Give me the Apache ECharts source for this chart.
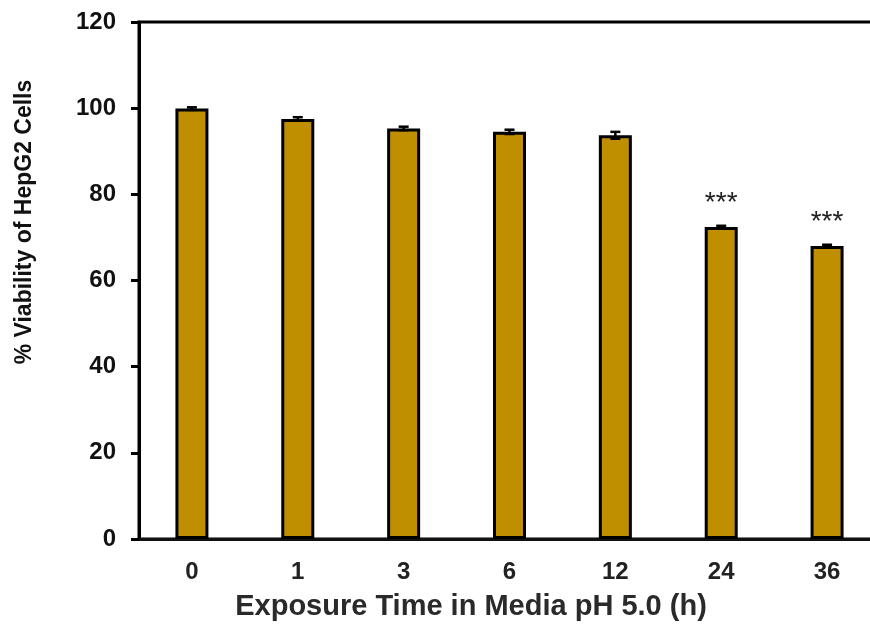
<!DOCTYPE html>
<html>
<head>
<meta charset="utf-8">
<script src="https://cdn.jsdelivr.net/npm/echarts@6/dist/echarts.min.js"></script>
<style>
html,body{margin:0;padding:0;background:#fff;overflow:hidden;}
#chart{width:890px;height:628px;}
</style>
</head>
<body>
<div id="chart"></div>
<script>
var categories = ['0', '1', '3', '6', '12', '24', '36'];
var viability = [99.9, 97.5, 95.3, 94.5, 93.7, 72.4, 68.0];
var errors = [0.3, 0.4, 0.4, 0.5, 0.8, 0.3, 0.3];
var significance = ['', '', '', '', '', '***', '***'];
var yTicks = [0, 20, 40, 60, 80, 100, 120];

var chart = echarts.init(document.getElementById('chart'));
var font = '"Liberation Sans", Arial, sans-serif';

var option = {
  animation: false,
  backgroundColor: '#fff',
  grid: {
    left: 139, right: 10, top: 22, bottom: 89,
    show: true, borderColor: '#000', borderWidth: 3, backgroundColor: 'transparent'
  },
  xAxis: {
    type: 'category',
    data: categories,
    axisLine: { lineStyle: { color: '#111', width: 3 } },
    axisTick: { alignWithLabel: true, length: 3, lineStyle: { color: '#111', width: 3 } },
    axisLabel: { color: '#222', fontFamily: font, fontWeight: 'bold', fontSize: 24, margin: 21 }
  },
  yAxis: {
    type: 'value',
    min: yTicks[0], max: yTicks[yTicks.length - 1], interval: 20,
    splitLine: { show: false },
    axisLine: { show: true, lineStyle: { color: '#000', width: 3 } },
    axisTick: { show: true, length: 8, lineStyle: { color: '#000', width: 3 } },
    axisLabel: { color: '#111', fontFamily: font, fontWeight: 'bold', fontSize: 24, margin: 23 }
  },
  graphic: [
    {
      type: 'text', x: 25, y: 222, rotation: Math.PI / 2,
      style: { text: '% Viability of HepG2 Cells', fill: '#111', font: 'bold 23px ' + font,
               align: 'center', verticalAlign: 'middle' }
    },
    {
      type: 'text', x: 471, y: 607,
      style: { text: 'Exposure Time in Media pH 5.0 (h)', fill: '#2a2a2a', font: 'bold 29px ' + font,
               align: 'center', verticalAlign: 'middle' }
    }
  ],
  series: [
    {
      type: 'bar',
      data: viability,
      barWidth: 33,
      itemStyle: { color: '#BF8F00', borderColor: '#000', borderWidth: 3 },
      label: {
        show: true, position: 'top', distance: 10,
        formatter: function (p) { return significance[p.dataIndex]; },
        color: '#222', fontFamily: font, fontSize: 28, lineHeight: 28
      }
    },
    {
      type: 'custom',
      data: viability.map(function (v, i) { return [i, v, errors[i]]; }),
      z: 5,
      renderItem: function (params, api) {
        var i = api.value(0), v = api.value(1), e = api.value(2);
        var hi = api.coord([i, v + e]);
        var lo = api.coord([i, v - e]);
        var cw = 5;
        var st = { stroke: '#000', lineWidth: 2.5 };
        return {
          type: 'group',
          children: [
            { type: 'line', shape: { x1: hi[0], y1: hi[1], x2: lo[0], y2: lo[1] }, style: st },
            { type: 'line', shape: { x1: hi[0] - cw, y1: hi[1], x2: hi[0] + cw, y2: hi[1] }, style: st },
            { type: 'line', shape: { x1: lo[0] - cw, y1: lo[1], x2: lo[0] + cw, y2: lo[1] }, style: st }
          ]
        };
      }
    }
  ]
};
chart.setOption(option);
</script>
</body>
</html>
